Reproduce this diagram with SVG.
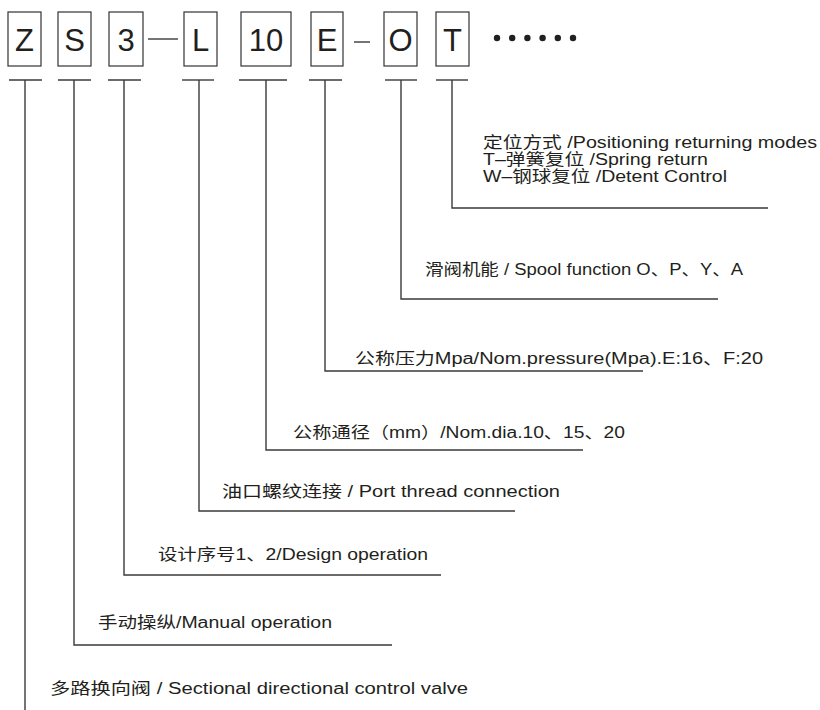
<svg xmlns="http://www.w3.org/2000/svg" width="820" height="710" viewBox="0 0 820 710">
<style>
.box{fill:#fff;stroke:#333;stroke-width:1.2}
.code{font-family:"Liberation Sans",Arial,sans-serif;font-size:31px;fill:#231f20;text-anchor:middle}
.lbl{font-family:"Liberation Sans","Noto Sans CJK SC",sans-serif;font-size:16px;fill:#231f20}
.ln{fill:none;stroke:#3a3a3a;stroke-width:1.4}
.dot{fill:#231f20}
</style>
<rect width="820" height="710" fill="#fff"/>
<g id="node-Z"><rect class="box" x="8" y="12" width="33" height="54"/><text class="code" x="24.5" y="51">Z</text></g>
<g id="node-S"><rect class="box" x="58" y="12" width="33" height="54"/><text class="code" x="74.5" y="51">S</text></g>
<g id="node-3"><rect class="box" x="109" y="12" width="34" height="54"/><text class="code" x="126" y="51">3</text></g>
<g id="node-L"><rect class="box" x="184" y="12" width="33" height="54"/><text class="code" x="200.5" y="51">L</text></g>
<g id="node-10"><rect class="box" x="241" y="12" width="50" height="54"/><text class="code" x="266" y="51">10</text></g>
<g id="node-E"><rect class="box" x="311" y="12" width="32" height="54"/><text class="code" x="327" y="51">E</text></g>
<g id="node-O"><rect class="box" x="384" y="12" width="33" height="54"/><text class="code" x="400.5" y="51">O</text></g>
<g id="node-T"><rect class="box" x="436" y="12" width="33" height="54"/><text class="code" x="452.5" y="51">T</text></g>
<g id="dots">
<circle class="dot" cx="497" cy="38" r="3.2"/><circle class="dot" cx="512.2" cy="38" r="3.2"/><circle class="dot" cx="527.4" cy="38" r="3.2"/><circle class="dot" cx="542.6" cy="38" r="3.2"/><circle class="dot" cx="557.8" cy="38" r="3.2"/><circle class="dot" cx="573" cy="38" r="3.2"/>
</g>
<g id="connectors">
<line class="ln" x1="148" y1="39" x2="178" y2="39"/>
<line class="ln" x1="354" y1="42" x2="370" y2="42"/>
<line class="ln" x1="9" y1="80" x2="42" y2="80"/>
<line class="ln" x1="58" y1="80" x2="91" y2="80"/>
<line class="ln" x1="108" y1="80" x2="141" y2="80"/>
<line class="ln" x1="182" y1="80" x2="214" y2="80"/>
<line class="ln" x1="239" y1="80" x2="287" y2="80"/>
<line class="ln" x1="309" y1="80" x2="342" y2="80"/>
<line class="ln" x1="385" y1="80" x2="417" y2="80"/>
<line class="ln" x1="436" y1="80" x2="468" y2="80"/>
<polyline class="ln" points="452,80 452,208 768,208"/>
<polyline class="ln" points="401,80 401,299 718,299"/>
<polyline class="ln" points="325,80 325,371 643,371"/>
<polyline class="ln" points="266,80 266,450 583,450"/>
<polyline class="ln" points="199,80 199,511 515,511"/>
<polyline class="ln" points="124,80 124,575 441,575"/>
<polyline class="ln" points="74,80 74,645 392,645"/>
<polyline class="ln" points="25,80 25,710"/>
</g>
<g id="label-T">
<text class="lbl" x="483" y="148" textLength="334" lengthAdjust="spacingAndGlyphs">定位方式 /Positioning returning modes</text>
<text class="lbl" x="483" y="165" textLength="225" lengthAdjust="spacingAndGlyphs">T–弹簧复位 /Spring return</text>
<text class="lbl" x="483" y="182" textLength="244" lengthAdjust="spacingAndGlyphs">W–钢球复位 /Detent Control</text>
</g>
<g id="label-O"><text class="lbl" x="425" y="275" textLength="318" lengthAdjust="spacingAndGlyphs">滑阀机能 / Spool function O、P、Y、A</text></g>
<g id="label-E"><text class="lbl" x="355" y="364" textLength="408" lengthAdjust="spacingAndGlyphs">公称压力Mpa/Nom.pressure(Mpa).E:16、F:20</text></g>
<g id="label-10"><text class="lbl" x="293" y="438" textLength="332" lengthAdjust="spacingAndGlyphs">公称通径（mm）/Nom.dia.10、15、20</text></g>
<g id="label-L"><text class="lbl" x="222" y="497" textLength="338" lengthAdjust="spacingAndGlyphs">油口螺纹连接  / Port thread connection</text></g>
<g id="label-3"><text class="lbl" x="158" y="560" textLength="270" lengthAdjust="spacingAndGlyphs">设计序号1、2/Design operation</text></g>
<g id="label-S"><text class="lbl" x="98" y="628" textLength="234" lengthAdjust="spacingAndGlyphs">手动操纵/Manual operation</text></g>
<g id="label-Z"><text class="lbl" x="50" y="694" textLength="418" lengthAdjust="spacingAndGlyphs">多路换向阀  / Sectional directional control valve</text></g>
</svg>
